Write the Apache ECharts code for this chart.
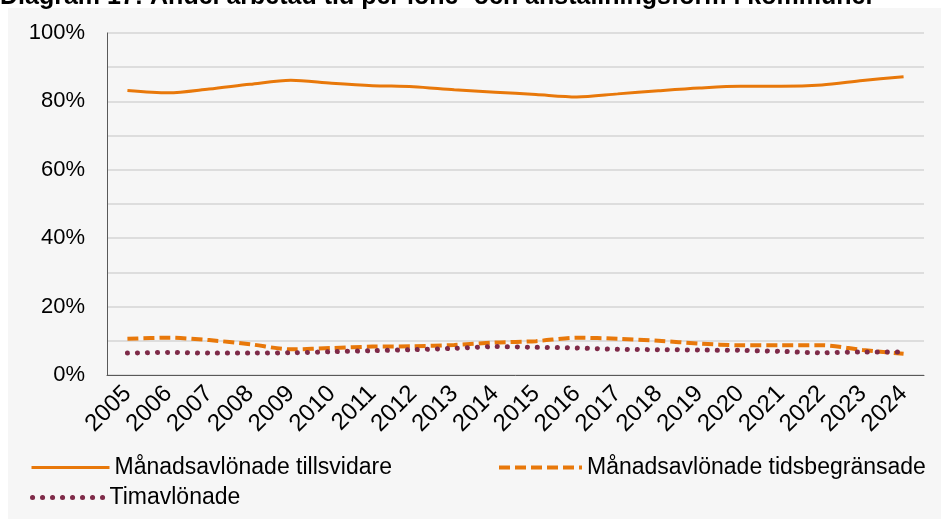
<!DOCTYPE html>
<html>
<head>
<meta charset="utf-8">
<script src="https://cdn.jsdelivr.net/npm/echarts@6/dist/echarts.min.js"></script>
<style>
  html, body { margin: 0; padding: 0; background: #ffffff; }
  #chart { width: 941px; height: 519px; }
</style>
</head>
<body>
<div id="chart"></div>
<script>
var chart = echarts.init(document.getElementById('chart'));

// data (percent)
var years = ['2005', '2006', '2007', '2008', '2009', '2010', '2011', '2012', '2013', '2014',
             '2015', '2016', '2017', '2018', '2019', '2020', '2021', '2022', '2023', '2024'];
var tillsvidare = [83.2, 82.5, 83.6, 85.0, 86.2, 85.3, 84.6, 84.3, 83.4, 82.7,
                   82.0, 81.3, 82.2, 83.1, 83.9, 84.4, 84.4, 84.8, 86.1, 87.2];
var tidsbegransade = [10.6, 10.9, 10.2, 9.0, 7.5, 7.9, 8.3, 8.4, 8.8, 9.5,
                      9.9, 10.9, 10.6, 10.0, 9.2, 8.7, 8.7, 8.7, 7.3, 6.2];
var timavlonade = [6.4, 6.6, 6.4, 6.4, 6.5, 6.8, 7.1, 7.4, 7.8, 8.3,
                   8.1, 7.9, 7.5, 7.4, 7.3, 7.2, 6.9, 6.5, 6.7, 6.7];
var seriesNames = ['Månadsavlönade tillsvidare', 'Månadsavlönade tidsbegränsade', 'Timavlönade'];
var titleText = 'Diagram 17: Andel arbetad tid per löne- och anställningsform i kommuner';

var orange = '#e8780a';
var maroon = '#7e2a48';
var font = 'Liberation Sans, Arial, sans-serif';

// legend items share one look, only position and icon length differ
function legendAt(name, left, top, w, lw) {
    return {
        data: [name], left: left, top: top, itemWidth: w, itemHeight: 14, padding: 0,
        itemStyle: { opacity: 0 },
        lineStyle: { opacity: 1, width: lw },
        textStyle: { fontFamily: font, fontSize: 23, color: '#000', padding: [0, 0, 0, 0] }
    };
}

option = {
    backgroundColor: '#ffffff',
    animation: false,
    graphic: [
        { // grey panel
            type: 'rect', left: 8, top: 8, z: -10,
            shape: { width: 940, height: 520 },
            style: { fill: '#f6f6f6' }
        },
        { // title, cut off at the top like the source
            type: 'text', left: 0, top: -15,
            style: { text: titleText, font: 'bold 25px ' + font, fill: '#000' }
        }
    ],
    grid: { left: 107, right: 17, top: 33, bottom: 144 },
    legend: [
        legendAt(seriesNames[0], 30, 456, 78, 3),
        legendAt(seriesNames[1], 497, 456, 83, 4),
        legendAt(seriesNames[2], 30, 486, 72, 5)
    ],
    xAxis: {
        type: 'category',
        data: years,
        boundaryGap: true,
        axisLine: { lineStyle: { color: '#595959', width: 1 } },
        axisTick: { show: false },
        axisLabel: {
            rotate: 45, interval: 0, margin: 15,
            fontFamily: font, fontSize: 24, color: '#000'
        }
    },
    yAxis: {
        type: 'value',
        min: 0, max: 100, interval: 10,
        axisLine: { show: true, lineStyle: { color: '#595959', width: 1 } },
        axisTick: { show: false },
        splitLine: { lineStyle: { color: '#d4d4d4', width: 1.5 } },
        axisLabel: {
            margin: 22, fontFamily: font, fontSize: 22, color: '#000',
            formatter: function (v) { return v % 20 === 0 ? v + '%' : ''; }
        }
    },
    series: [
        {
            name: seriesNames[0], type: 'line', data: tillsvidare,
            smooth: 0.3, symbol: 'none',
            lineStyle: { color: orange, width: 3 }, itemStyle: { color: orange }
        },
        {
            name: seriesNames[1], type: 'line', data: tidsbegransade,
            smooth: 0.3, symbol: 'none',
            lineStyle: { color: orange, width: 4, type: [11, 5] }, itemStyle: { color: orange }
        },
        {
            name: seriesNames[2], type: 'line', data: timavlonade,
            smooth: 0.3, symbol: 'none',
            lineStyle: { color: maroon, width: 5, type: [0.1, 9.9], cap: 'round' }, itemStyle: { color: maroon }
        }
    ]
};

chart.setOption(option);
</script>
</body>
</html>
